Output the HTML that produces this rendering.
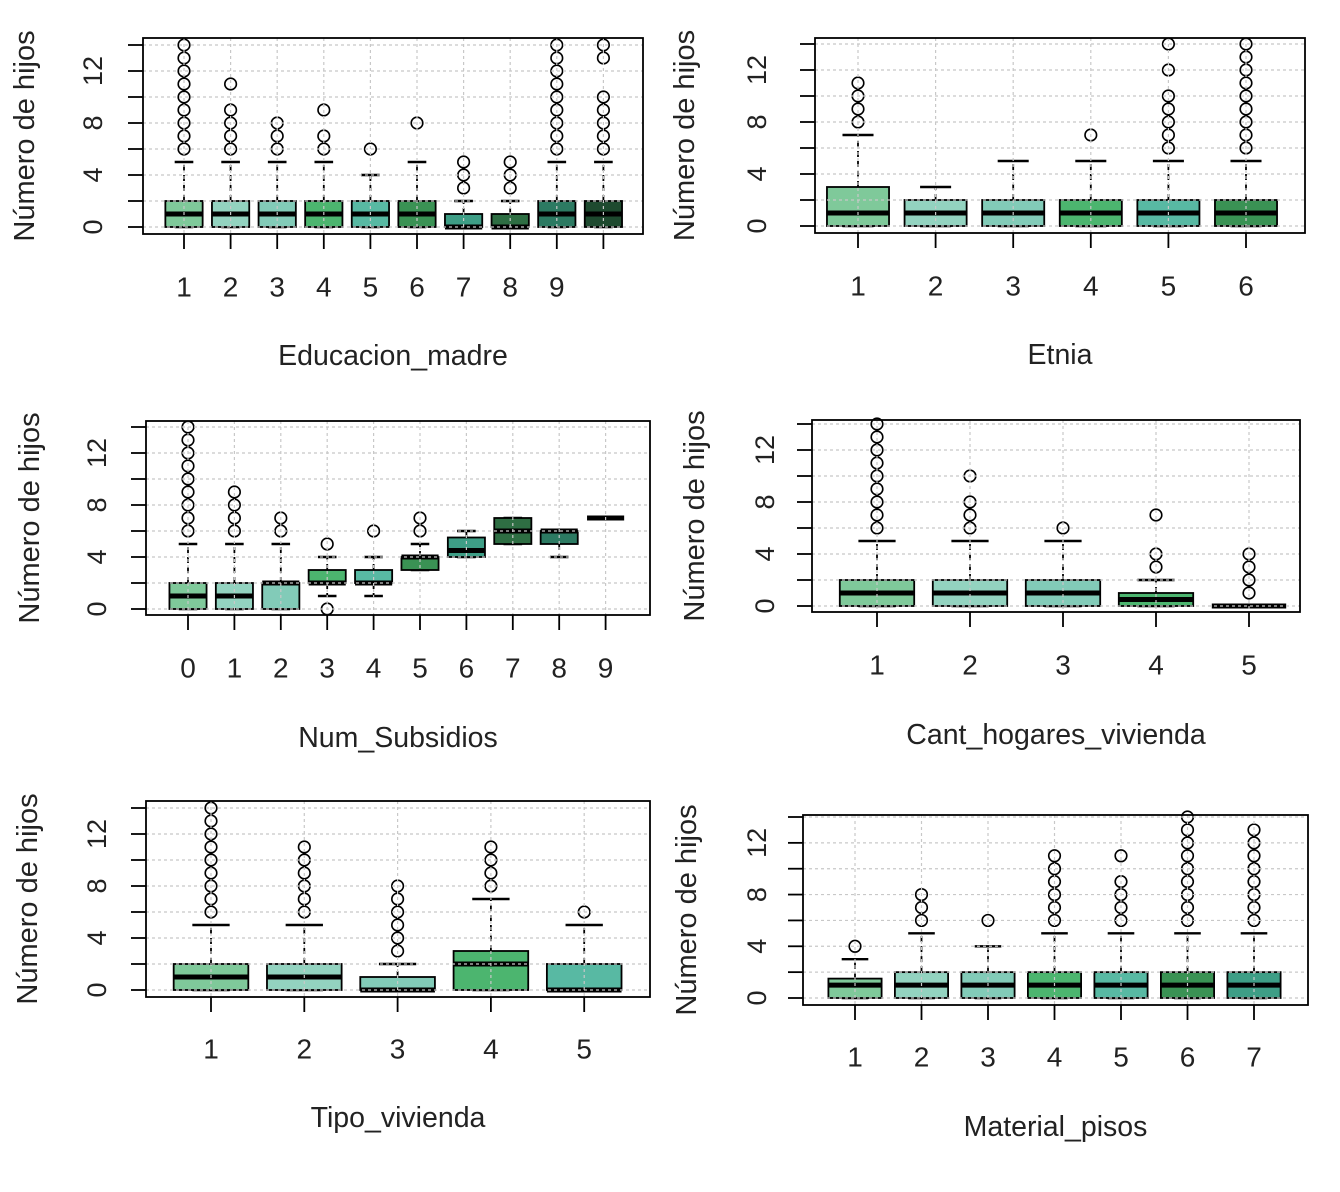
<!DOCTYPE html>
<html><head><meta charset="utf-8"><style>
body{margin:0;background:#fff}
svg{display:block;font-family:"Liberation Sans",sans-serif}
</style></head><body>
<svg id="c" width="1340" height="1192" viewBox="0 0 1340 1192"></svg>
<script>
const pal10 = ["#7fc99a","#93d3c0","#82cbb8","#4cb56f","#58b9a3","#3a9254","#3e9e86","#2e6e43","#2c7a62","#1e4a2f"];

// Panel 1: Educacion_madre
const p1Cats = ["1","2","3","4","5","6","7","8","9",""];
const p1Q1 = [0,0,0,0,0,0,0,0,0,0];
const p1Med = [1,1,1,1,1,1,0,0,1,1];
const p1Q3 = [2,2,2,2,2,2,1,1,2,2];
const p1Lo = [0,0,0,0,0,0,0,0,0,0];
const p1Hi = [5,5,5,5,4,5,2,2,5,5];
const p1Out = [[6,7,8,9,10,11,12,13,14],[6,7,8,9,11],[6,7,8],[6,7,9],[6],[8],[3,4,5],[3,4,5],[6,7,8,9,10,11,12,13,14],[6,7,8,9,10,13,14]];

// Panel 2: Etnia
const p2Cats = ["1","2","3","4","5","6"];
const p2Q1 = [0,0,0,0,0,0];
const p2Med = [1,1,1,1,1,1];
const p2Q3 = [3,2,2,2,2,2];
const p2Lo = [0,0,0,0,0,0];
const p2Hi = [7,3,5,5,5,5];
const p2Out = [[8,9,10,11],[],[],[7],[6,7,8,9,10,12,14],[6,7,8,9,10,11,12,13,14]];

// Panel 3: Num_Subsidios
const p3Cats = ["0","1","2","3","4","5","6","7","8","9"];
const p3Q1 = [0,0,0,2,2,3,4,5,5,7];
const p3Med = [1,1,2,2,2,4,4.5,6,6,7];
const p3Q3 = [2,2,2,3,3,4,5.5,7,6,7];
const p3Lo = [0,0,0,1,1,3,4,5,4,7];
const p3Hi = [5,5,5,4,4,5,6,7,6,7];
const p3Out = [[6,7,8,9,10,11,12,13,14],[6,7,8,9],[6,7],[5,0],[6],[6,7],[],[],[],[]];

// Panel 4: Cant_hogares_vivienda
const p4Cats = ["1","2","3","4","5"];
const p4Q1 = [0,0,0,0,0];
const p4Med = [1,1,1,0.5,0];
const p4Q3 = [2,2,2,1,0];
const p4Lo = [0,0,0,0,0];
const p4Hi = [5,5,5,2,0];
const p4Out = [[6,7,8,9,10,11,12,13,14],[6,7,8,10],[6],[3,4,7],[1,2,3,4]];

// Panel 5: Tipo_vivienda
const p5Cats = ["1","2","3","4","5"];
const p5Q1 = [0,0,0,0,0];
const p5Med = [1,1,0,2,0];
const p5Q3 = [2,2,1,3,2];
const p5Lo = [0,0,0,0,0];
const p5Hi = [5,5,2,7,5];
const p5Out = [[6,7,8,9,10,11,12,13,14],[6,7,8,9,10,11],[3,4,5,6,7,8],[8,9,10,11],[6]];

// Panel 6: Material_pisos
const p6Cats = ["1","2","3","4","5","6","7"];
const p6Q1 = [0,0,0,0,0,0,0];
const p6Med = [1,1,1,1,1,1,1];
const p6Q3 = [1.5,2,2,2,2,2,2];
const p6Lo = [0,0,0,0,0,0,0];
const p6Hi = [3,5,4,5,5,5,5];
const p6Out = [[4],[6,7,8],[6],[6,7,8,9,10,11],[6,7,8,9,11],[6,7,8,9,10,11,12,13,14],[6,7,8,9,10,11,12,13]];

const yTicks = [0,2,4,6,8,10,12,14];
const yLabels = [0,4,8,12];

const NS = "http://www.w3.org/2000/svg";
const svg = document.getElementById("c");
function mk(tag, attrs, parent){
  const e = document.createElementNS(NS, tag);
  for (const k in attrs) e.setAttribute(k, attrs[k]);
  (parent||svg).appendChild(e);
  return e;
}

function panel(id, g, cats, q1, med, q3, lo, hi, outs, xlab){
  const grp = mk("g", {});
  
  
  const y = v => g.y0 - (g.y0 - g.y14) * v / 14;
  const x = i => g.x0 + g.step * i;
  const bw = g.step * 0.8;
  cats.forEach((c, i) => {
    const cx = x(i);
    const bg = mk("g", {}, grp);
    
    
    mk("line", {x1:cx, x2:cx, y1:y(q3[i]), y2:y(hi[i]), stroke:"#000", "stroke-width":1.8, "stroke-dasharray":"6,4"}, bg);
    mk("line", {x1:cx, x2:cx, y1:y(q1[i]), y2:y(lo[i]), stroke:"#000", "stroke-width":1.8, "stroke-dasharray":"6,4"}, bg);
    mk("line", {x1:cx-bw/4, x2:cx+bw/4, y1:y(hi[i]), y2:y(hi[i]), stroke:"#000", "stroke-width":2.4}, bg);
    mk("line", {x1:cx-bw/4, x2:cx+bw/4, y1:y(lo[i]), y2:y(lo[i]), stroke:"#000", "stroke-width":2.4}, bg);
    const h = Math.max(y(q1[i]) - y(q3[i]), 0);
    mk("rect", {x:cx-bw/2, y:y(q3[i]), width:bw, height:h, fill:pal10[i], stroke:"#000", "stroke-width":1.8}, bg);
    mk("line", {x1:cx-bw/2, x2:cx+bw/2, y1:y(med[i]), y2:y(med[i]), stroke:"#000", "stroke-width":5}, bg);
    outs[i].forEach(v => {
      const o = mk("circle", {cx:cx, cy:y(v), r:5.8, fill:"none", stroke:"#000", "stroke-width":1.6}, bg);
      
      
    });
  });
  yTicks.forEach(t => mk("line", {x1:g.L, x2:g.R, y1:y(t), y2:y(t), stroke:"#c8c8c8", "stroke-width":1.2, "stroke-dasharray":"3,3"}, grp));
  cats.forEach((c, i) => mk("line", {x1:x(i), x2:x(i), y1:g.T, y2:g.B, stroke:"#c8c8c8", "stroke-width":1.2, "stroke-dasharray":"3,3"}, grp));
  const fr = mk("rect", {x:g.L, y:g.T, width:g.R-g.L, height:g.B-g.T, fill:"none", stroke:"#000", "stroke-width":1.8}, grp);
  
  
  yTicks.forEach(t => mk("line", {x1:g.L-15, x2:g.L, y1:y(t), y2:y(t), stroke:"#000", "stroke-width":1.8}, grp));
  yLabels.forEach(t => {
    const tx = mk("text", {x:g.tx, y:y(t), "font-size":27, fill:"#222", "text-anchor":"middle", "dominant-baseline":"central", transform:`rotate(-90 ${g.tx} ${y(t)})`}, grp);
    tx.textContent = t;
    
    
  });
  cats.forEach((c, i) => {
    mk("line", {x1:x(i), x2:x(i), y1:g.B, y2:g.B+15, stroke:"#000", "stroke-width":1.8}, grp);
    const tx = mk("text", {x:x(i), y:g.ly, "font-size":28, fill:"#222", "text-anchor":"middle", "dominant-baseline":"central"}, grp);
    tx.textContent = c;
    
    
  });
  const xl = mk("text", {x:(g.L+g.R)/2, y:g.xly, "font-size":28.5, fill:"#222", "text-anchor":"middle", "dominant-baseline":"central"}, grp);
  xl.textContent = xlab;
  
  
  const cy = (g.T+g.B)/2;
  const yl = mk("text", {x:g.yx, y:cy, "font-size":29, fill:"#222", "text-anchor":"middle", "dominant-baseline":"central", transform:`rotate(-90 ${g.yx} ${cy})`}, grp);
  yl.textContent = "Número de hijos";
  
  
}

panel("panel-educacion-madre", {L:143,R:643,T:38,B:234,y0:227,y14:45,x0:184,step:46.6,ly:287,xly:356,yx:25,tx:93}, p1Cats,p1Q1,p1Med,p1Q3,p1Lo,p1Hi,p1Out,"Educacion_madre");
panel("panel-etnia", {L:815,R:1305,T:38,B:233,y0:226,y14:44,x0:858,step:77.6,ly:286,xly:355,yx:685,tx:757}, p2Cats,p2Q1,p2Med,p2Q3,p2Lo,p2Hi,p2Out,"Etnia");
panel("panel-num-subsidios", {L:146,R:650,T:421,B:615,y0:609,y14:427,x0:188,step:46.4,ly:668,xly:738,yx:30,tx:97}, p3Cats,p3Q1,p3Med,p3Q3,p3Lo,p3Hi,p3Out,"Num_Subsidios");
panel("panel-cant-hogares", {L:812,R:1300,T:420,B:612,y0:606,y14:424,x0:877,step:93,ly:665,xly:735,yx:695,tx:765}, p4Cats,p4Q1,p4Med,p4Q3,p4Lo,p4Hi,p4Out,"Cant_hogares_vivienda");
panel("panel-tipo-vivienda", {L:146,R:650,T:801,B:997,y0:990,y14:808,x0:211,step:93.3,ly:1049,xly:1118,yx:28,tx:97}, p5Cats,p5Q1,p5Med,p5Q3,p5Lo,p5Hi,p5Out,"Tipo_vivienda");
panel("panel-material-pisos", {L:803,R:1308,T:815,B:1005,y0:998,y14:817,x0:855,step:66.5,ly:1057,xly:1127,yx:687,tx:757}, p6Cats,p6Q1,p6Med,p6Q3,p6Lo,p6Hi,p6Out,"Material_pisos");
</script>
</body></html>
